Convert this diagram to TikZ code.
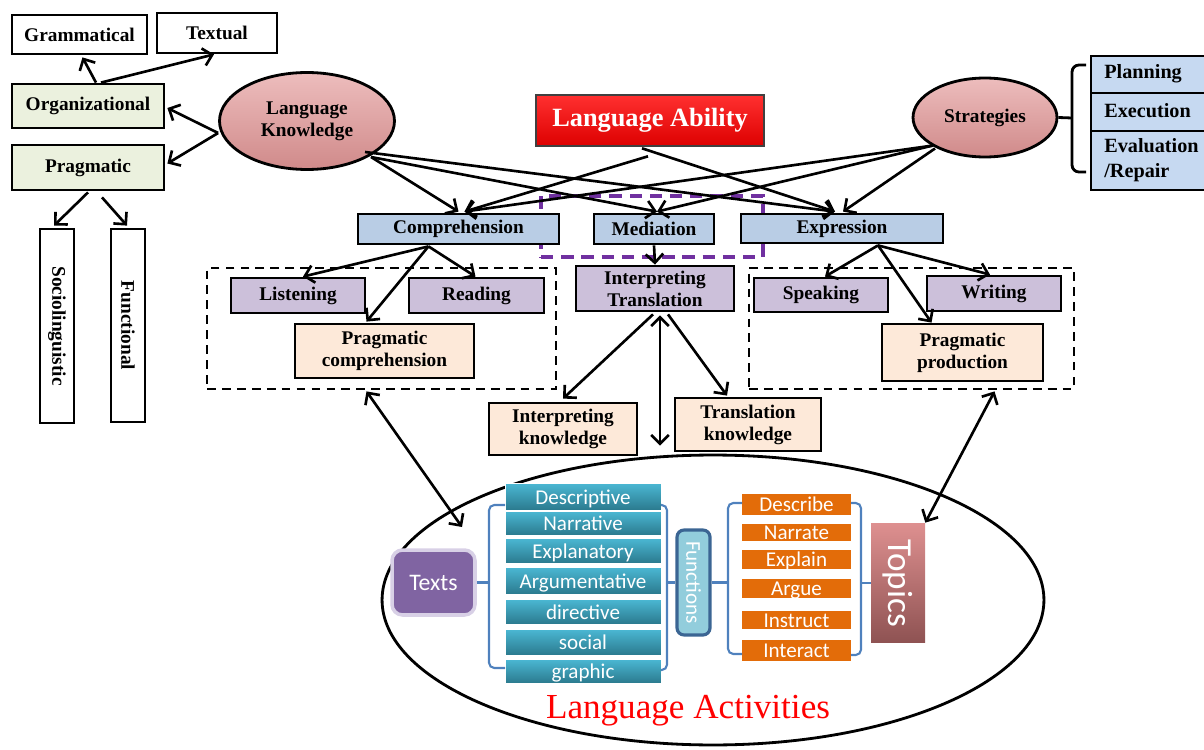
\documentclass[tikz,border=0pt]{standalone}
\usepackage{fontspec}
\setmainfont{Liberation Serif}
\newfontfamily\calfont{Carlito}
\usetikzlibrary{arrows.meta,shapes.geometric,calc}
\definecolor{orgfill}{HTML}{EBF1DE}
\definecolor{bluefill}{HTML}{B9CDE5}
\definecolor{lavfill}{HTML}{CCC0DA}
\definecolor{peach}{HTML}{FDE9D9}
\definecolor{stratblue}{HTML}{C6D9F1}
\definecolor{pinkT}{HTML}{EDBDBD}
\definecolor{pinkB}{HTML}{D08A8A}
\definecolor{tealT}{HTML}{4BB8D4}
\definecolor{tealB}{HTML}{2B7A8E}
\definecolor{orng}{HTML}{E36C09}
\definecolor{purp}{HTML}{8064A2}
\definecolor{purpb}{HTML}{D8D0E6}
\definecolor{funcfill}{HTML}{92CDDC}
\definecolor{funcdraw}{HTML}{3B6593}
\definecolor{topT}{HTML}{DE9090}
\definecolor{topB}{HTML}{8E5252}
\definecolor{brk}{HTML}{4F81BD}
\definecolor{dpurp}{HTML}{7030A0}
\definecolor{laT}{HTML}{FF3030}
\definecolor{laB}{HTML}{DD0000}
\tikzset{
  bx/.style={draw, line width=1.6pt, inner sep=0pt, align=center, font=\bfseries\fontsize{11}{12.5}\selectfont},
  ar/.style={line width=1.5pt, -{Straight Barb[length=5pt,width=10pt]}},
  dar/.style={line width=1.5pt, {Straight Barb[length=5pt,width=10pt]}-{Straight Barb[length=5pt,width=10pt]}},
  dsh/.style={draw, line width=1.6pt, dash pattern=on 5pt off 3.5pt},
  tealbox/.style={minimum width=3.12cm, inner sep=0pt, top color=tealT, bottom color=tealB, draw=white, line width=0.4pt, text=white, text height=10pt, text depth=1pt, font=\calfont\fontsize{12}{13}\selectfont},
  orbox/.style={fill=orng, minimum width=2.18cm, inner sep=0pt, text=white, text height=9pt, text depth=0.5pt, font=\calfont\fontsize{12}{12}\selectfont},
  brkline/.style={draw=brk, line width=1.2pt, rounded corners=3pt},
  sbox/.style={draw, line width=1.2pt, fill=stratblue, anchor=north west, minimum width=2.28cm, inner sep=0pt},
  stxt/.style={anchor=west, align=left, inner sep=0pt, font=\bfseries\fontsize{11.5}{14}\selectfont},
}
\begin{document}
\begin{tikzpicture}[x=0.02cm,y=-0.02cm]
\useasboundingbox (0,0) rectangle (1204,750);

% dashed groups
\node[dsh, minimum width=6.98cm, minimum height=2.42cm] (lbox) at (381.5,328.5) {};
\node[dsh, minimum width=6.50cm, minimum height=2.42cm] (rbox) at (911.5,328.5) {};
\node[draw=dpurp, line width=2pt, dash pattern=on 7pt off 4.5pt, minimum width=4.44cm, minimum height=1.22cm] (pbox) at (652,226.5) {};

% big ellipse
\node[ellipse, draw, line width=1.6pt, minimum width=13.24cm, minimum height=5.8cm, inner sep=0pt] (act) at (713,600) {};
\node[text=red, inner sep=0pt, font=\fontsize{20}{22}\selectfont] (lact) at (688,711) {Language Activities};

% left hierarchy
\node[bx, fill=white, minimum width=2.70cm, minimum height=0.78cm] (gram) at (79.5,34.5) {Grammatical};
\node[bx, fill=white, minimum width=2.40cm, minimum height=0.80cm] (textual) at (217,33) {Textual};
\node[bx, fill=orgfill, minimum width=3.04cm, minimum height=0.88cm] (org) at (88,106) {Organizational};
\node[bx, fill=orgfill, minimum width=3.04cm, minimum height=0.90cm] (prag) at (88,167.5) {Pragmatic};
\node[bx, fill=white, rotate=-90, minimum width=3.88cm, minimum height=0.68cm] (socio) at (57,326) {Sociolinguistic};
\node[bx, fill=white, rotate=-90, minimum width=3.86cm, minimum height=0.68cm] (func) at (128,325.5) {Functional};

% ellipses and title
\node[bx, ellipse, top color=pinkT, bottom color=pinkB, line width=1.6pt, minimum width=3.50cm, minimum height=1.94cm] (lk) at (307,121) {Language\\Knowledge};
\node[bx, ellipse, top color=pinkT, bottom color=pinkB, line width=1.6pt, minimum width=2.88cm, minimum height=1.58cm] (strat) at (985,117.5) {Strategies};
\node[bx, top color=laT, bottom color=laB, draw=black!75, line width=1.5pt, text=white, minimum width=4.56cm, minimum height=1.02cm, font=\bfseries\fontsize{15}{17}\selectfont] (la) at (650,120.5) {Language Ability};

% strategy boxes
\node[sbox, minimum height=0.74cm] (plan) at (1090,55) {};
\node[sbox, minimum height=0.76cm] (exec) at (1090,92) {};
\node[sbox, minimum height=1.18cm] (eval) at (1090,130) {};
\node[stxt] (planT) at (1104,73.5) {Planning};
\node[stxt] (execT) at (1104,111) {Execution};
\node[stxt] (evalT) at (1104,160) {Evaluation\\/Repair};
\draw[line width=1.6pt, rounded corners=4pt] (1086,65) -- (1072,65) -- (1072,172) -- (1086,172);
\draw[line width=1.6pt] (strat.east) -- (1072,118);

% second level
\node[bx, fill=bluefill, minimum width=4.02cm, minimum height=0.60cm] (comp) at (458.5,229) {Comprehension};
\node[bx, fill=bluefill, minimum width=2.40cm, minimum height=0.60cm] (med) at (654,229) {Mediation};
\node[bx, fill=bluefill, minimum width=4.04cm, minimum height=0.58cm] (expr) at (842,228.5) {Expression};

% third level
\node[bx, fill=lavfill, minimum width=2.68cm, minimum height=0.70cm] (listen) at (298,295.5) {Listening};
\node[bx, fill=lavfill, minimum width=2.70cm, minimum height=0.70cm] (read) at (476.5,295.5) {Reading};
\node[bx, fill=peach, minimum width=3.58cm, minimum height=1.08cm] (pcomp) at (384.5,351) {Pragmatic\\comprehension};
\node[bx, fill=lavfill, minimum width=3.16cm, minimum height=0.90cm] (it) at (655,288.5) {Interpreting\\Translation};
\node[bx, fill=lavfill, minimum width=2.68cm, minimum height=0.68cm] (speak) at (821,295) {Speaking};
\node[bx, fill=lavfill, minimum width=2.68cm, minimum height=0.70cm] (write) at (994,293.5) {Writing};
\node[bx, fill=peach, minimum width=3.22cm, minimum height=1.14cm] (pprod) at (962.5,352.5) {Pragmatic\\production};
\node[bx, fill=peach, minimum width=2.96cm, minimum height=1.04cm] (ik) at (563,429) {Interpreting\\knowledge};
\node[bx, fill=peach, minimum width=2.92cm, minimum height=1.06cm] (tk) at (748,424.5) {Translation\\knowledge};

% activities content
\node[fill=purp, draw=purpb, line width=2pt, rounded corners=6pt, minimum width=1.66cm, minimum height=1.30cm, inner sep=0pt, text=white, font=\calfont\fontsize{13.5}{15}\selectfont] (texts) at (433.5,582.5) {Texts};
\node[tealbox, minimum height=0.54cm] (d1) at (583,496.5) {Descriptive};
\node[tealbox, minimum height=0.48cm] (d2) at (583,523) {Narrative};
\node[tealbox, minimum height=0.50cm] (d3) at (583,550.5) {Explanatory};
\node[tealbox, minimum height=0.54cm] (d4) at (583,580.5) {Argumentative};
\node[tealbox, minimum height=0.50cm] (d5) at (583,611.5) {directive};
\node[tealbox, minimum height=0.52cm] (d6) at (583,642) {social};
\node[tealbox, minimum height=0.48cm] (d7) at (583,671) {graphic};
\node[fill=funcfill, draw=funcdraw, line width=1.8pt, rounded corners=4pt, rotate=-90, minimum width=2.10cm, minimum height=0.66cm, inner sep=0pt, text=white, font=\calfont\fontsize{12}{13}\selectfont] (fn) at (693.5,582.5) {Functions};
\node[orbox, minimum height=0.42cm] (o1) at (796.5,504.5) {Describe};
\node[orbox, minimum height=0.34cm] (o2) at (796.5,532.5) {Narrate};
\node[orbox, minimum height=0.38cm] (o3) at (796.5,559.5) {Explain};
\node[orbox, minimum height=0.38cm] (o4) at (796.5,588.5) {Argue};
\node[orbox, minimum height=0.36cm] (o5) at (796.5,620) {Instruct};
\node[orbox, minimum height=0.42cm] (o6) at (796.5,650.5) {Interact};
\node[top color=topT, bottom color=topB, rotate=-90, minimum width=2.40cm, minimum height=1.08cm, inner sep=0pt, text=white, font=\calfont\fontsize{20}{22}\selectfont] (topics) at (898,583) {Topics};

% brackets
\draw[brkline] (505,505) -- (489,505) -- (489,668) -- (505,668);
\draw[brkline] (texts.east) -- (489,582.5);
\draw[brkline] (661,505) -- (667,505) -- (667,670) -- (661,670);
\draw[brkline] (667,582.5) -- (fn.south);
\draw[brkline] (742,503) -- (728,503) -- (728,654) -- (742,654);
\draw[brkline] (fn.north) -- (728,582.5);
\draw[brkline] (851,503) -- (861,503) -- (861,655) -- (851,655);
\draw[brkline] (861,583) -- (topics.south);

% arrows: left hierarchy
\draw[ar] ($(org.north)+(8,0)$) -- ($(gram.south)+(3,2)$);
\draw[ar] ($(org.north)+(13,0)$) -- ($(textual.south)+(-3,0)$);
\coordinate (lkw) at ($(lk.west)+(0,12)$);
\draw[ar] (lkw) -- ($(org.east)+(2,2)$);
\draw[ar] (lkw) -- ($(prag.east)+(2,-4)$);
\draw[ar] ($(prag.south)+(0,1)$) -- ($(socio.west)+(-3,-2)$);
\draw[ar] ($(prag.south)+(14,6)$) -- ($(func.west)+(-1,-2)$);

% arrows: to second level
\coordinate (lk1) at ($(lk.center)+(58,31)$);
\coordinate (lk2) at ($(lk.center)+(64,36)$);
\draw[ar] (lk2) -- ($(comp.north)+(0,-1)$);
\draw[ar] (lk2) -- ($(med.north)+(3,-1)$);
\draw[ar] (lk1) -- ($(expr.north)+(-7,-1)$);
\draw[ar] ($(la.south)+(-2,9)$) -- ($(comp.north)+(6,-1)$);
\draw[ar] ($(la.south)+(-8,1)$) -- ($(expr.north)+(-7,-1)$);
\coordinate (st1) at ($(strat.center)+(-52,28)$);
\draw[ar] (st1) -- ($(comp.north)+(6,-1)$);
\draw[ar] (st1) -- ($(med.north)+(3,-1)$);
\draw[ar] ($(strat.center)+(-50,31)$) -- ($(expr.north)+(1,-1)$);
\draw[ar] (med.south) -- (it.north);

% arrows: third level
\coordinate (cs) at ($(comp.south)+(-30,1)$);
\draw[ar] (cs) -- ($(listen.north)+(5,0)$);
\draw[ar] (cs) -- ($(pcomp.north)+(-18,-1)$);
\draw[ar] (cs) -- ($(read.north)+(-1,0)$);
\coordinate (es) at ($(expr.south)+(36,1)$);
\draw[ar] (es) -- ($(speak.north)+(4,0)$);
\draw[ar] (es) -- ($(write.north)+(-4,0)$);
\draw[ar] (es) -- ($(pprod.north)+(-31,0)$);
\draw[ar] ($(it.south)+(-2,2)$) -- ($(ik.north)+(0,-3)$);
\draw[ar] ($(it.south)+(13,2)$) -- ($(tk.north)+(-21,-1)$);
\draw[dar] ($(it.south)+(5,3)$) -- ($(act.north)+(-53,-8)$);

% arrows: to activities
\coordinate (tA) at (462,527);
\draw[dar] ($(lbox.south)+(-15,1)$) -- (tA);
\draw[dar] ($(rbox.south)+(83,1)$) -- (topics.north west);
\end{tikzpicture}
\end{document}
